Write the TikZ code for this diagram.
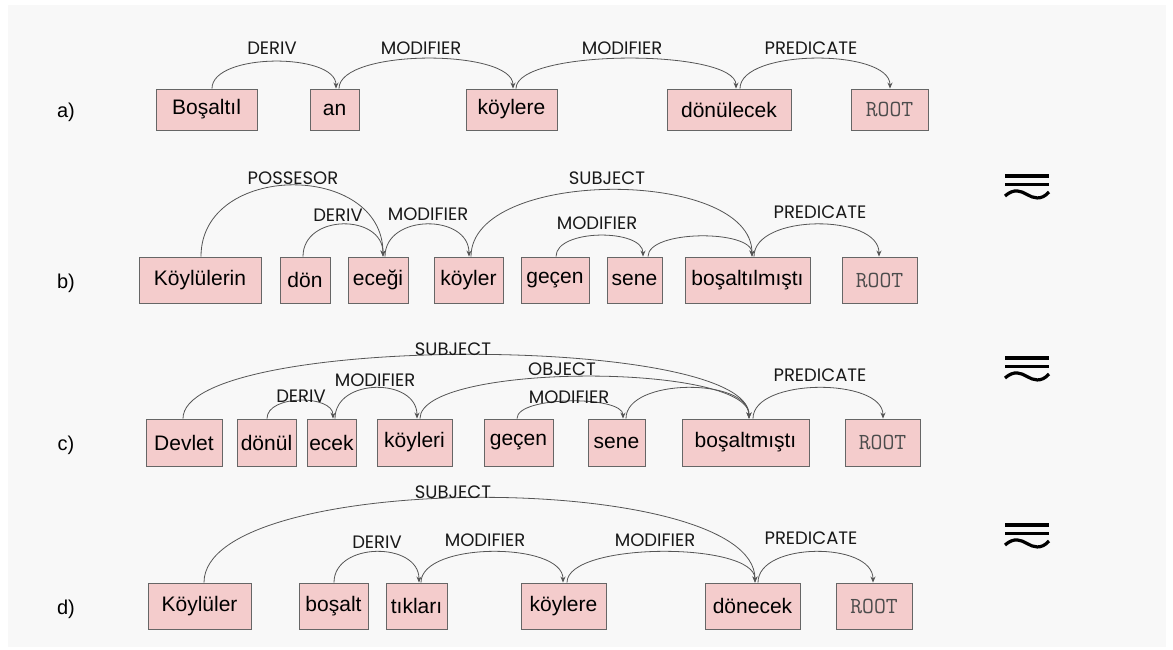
\documentclass[tikz,border=0pt]{standalone}
\usepackage{fontspec}
\setmainfont{Liberation Sans}
\newfontfamily\labelfont{Poppins}
\usetikzlibrary{arrows.meta}
\definecolor{WordPink}{HTML}{F4CCCC}
\definecolor{WordEdge}{HTML}{666666}
\definecolor{ArcInk}{HTML}{555555}
\definecolor{PageGray}{HTML}{F8F8F8}

\begin{document}
\begin{tikzpicture}[x=1pt,y=-1pt,>=Stealth]
\tikzset{
  word/.style={draw=WordEdge,line width=0.9pt,fill=WordPink,inner sep=0pt,font=\fontsize{21}{23}\selectfont,text=black},
  rootword/.style={word,font=\ttfamily\fontsize{23}{25}\selectfont,text=black!70},
  rel/.style={font=\labelfont\fontsize{18}{20}\selectfont,text=black!90,inner sep=0pt},
  row/.style={font=\fontsize{20}{22}\selectfont},
  dep/.style={draw=ArcInk,line width=0.8pt,-{Stealth[length=6pt,width=5pt]}},
  pics/eqtilde/.style={code={
    \draw[line width=3.4pt] (-22,-10) -- (22,-10);
    \draw[line width=3.4pt] (-22,-1.5) -- (22,-1.5);
    \draw[line width=3.2pt] (-22,10) .. controls (-13,2) and (-6,5) .. (0,8.5) .. controls (6,12) and (14,15) .. (22,6);
  }}
}
\useasboundingbox (0,0) rectangle (1173,650);
\fill[white] (0,0) rectangle (1173,650);
\fill[PageGray] (8,5) rectangle (1166,647);

% a)
\node[row] (ra) at (66,112) {a)};
\node[word,minimum width=101,minimum height=41] (a1) at (206.5,109.5) {Boşaltıl};
\node[word,minimum width=49,minimum height=41] (a2) at (334.5,109.5) {an};
\node[word,minimum width=91,minimum height=41] (a3) at (511.5,109.5) {köylere};
\node[word,minimum width=124,minimum height=41] (a4) at (729,109.5) {dönülecek};
\node[rootword,minimum width=77,minimum height=41] (a5) at (889.5,109.5) {ROOT};
\draw[dep] ([xshift=5.5]a1.north) .. controls +(0,-36) and +(0,-36) .. ([xshift=1.5]a2.north);
\draw[dep] ([xshift=4.5]a2.north) .. controls +(0,-40) and +(0,-40) .. ([xshift=1.5]a3.north);
\draw[dep] ([xshift=4.5]a3.north) .. controls +(0,-40) and +(0,-40) .. ([xshift=7]a4.north);
\draw[dep] ([xshift=11]a4.north) .. controls +(0,-40) and +(0,-40) .. ([xshift=0.5]a5.north);
\node[rel] (la1) at (272,48) {DERIV};
\node[rel] (la2) at (421,48) {MODIFIER};
\node[rel] (la3) at (622,48) {MODIFIER};
\node[rel] (la4) at (811,48) {PREDICATE};

% b)
\node[row] (rb) at (66,283) {b)};
\node[word,minimum width=122,minimum height=46] (b1) at (200,280) {Köylülerin};
\node[word,minimum width=50,minimum height=46] (b2) at (305,280) {dön};
\node[word,minimum width=60,minimum height=46] (b3) at (378,280) {eceği};
\node[word,minimum width=69,minimum height=46] (b4) at (468.5,280) {köyler};
\node[word,minimum width=68,minimum height=46] (b5) at (555,280) {geçen};
\node[word,minimum width=55,minimum height=46] (b6) at (634.5,280) {sene};
\node[word,minimum width=125,minimum height=46] (b7) at (747.5,280) {boşaltılmıştı};
\node[rootword,minimum width=75,minimum height=46] (b8) at (879.5,280) {ROOT};
\draw[dep] ([xshift=1]b1.north) .. controls +(0,-95) and +(0,-95) .. ([xshift=5]b3.north);
\draw[dep] ([xshift=-2]b2.north) .. controls +(0,-43) and +(0,-43) .. ([xshift=5]b3.north);
\draw[dep] ([xshift=7]b3.north) .. controls +(0,-43) and +(0,-43) .. ([xshift=0.5]b4.north);
\draw[dep] ([xshift=2.5]b4.north) .. controls +(0,-89) and +(0,-89) .. ([xshift=4.5]b7.north);
\draw[dep] ([xshift=1]b5.north) .. controls +(0,-28) and +(0,-28) .. ([xshift=8.5]b6.north);
\draw[dep] ([xshift=13.5]b6.north) .. controls +(0,-27) and +(0,-27) .. ([xshift=4.5]b7.north);
\draw[dep] ([xshift=6.5]b7.north) .. controls +(0,-43) and +(0,-43) .. ([xshift=-0.5]b8.north);
\node[rel] (lb1) at (293,178) {POSSESOR};
\node[rel] (lb2) at (338,215) {DERIV};
\node[rel] (lb3) at (428,214) {MODIFIER};
\node[rel] (lb4) at (607,178) {SUBJECT};
\node[rel] (lb5) at (597,223) {MODIFIER};
\node[rel] (lb6) at (820,212) {PREDICATE};
\pic at (1027,186) {eqtilde};

% c)
\node[row] (rc) at (66,445) {c)};
\node[word,minimum width=76,minimum height=47] (c1) at (184,442.5) {Devlet};
\node[word,minimum width=59,minimum height=47] (c2) at (266.5,442.5) {dönül};
\node[word,minimum width=49,minimum height=47] (c3) at (331.5,442.5) {ecek};
\node[word,minimum width=75,minimum height=47] (c4) at (414.5,442.5) {köyleri};
\node[word,minimum width=69,minimum height=47] (c5) at (518.5,442.5) {geçen};
\node[word,minimum width=57,minimum height=47] (c6) at (616.5,442.5) {sene};
\node[word,minimum width=127,minimum height=47] (c7) at (745.5,442.5) {boşaltmıştı};
\node[rootword,minimum width=75,minimum height=47] (c8) at (882.5,442.5) {ROOT};
\draw[dep] ([xshift=-1]c1.north) .. controls +(0,-85) and +(0,-85) .. ([xshift=3.5]c7.north);
\draw[dep] ([xshift=5.5]c4.north) .. controls +(0,-56) and +(0,-56) .. ([xshift=3.5]c7.north);
\draw[dep] ([xshift=0.5]c2.north) .. controls +(0,-24) and +(0,-24) .. ([xshift=1.5]c3.north);
\draw[dep] ([xshift=3.5]c3.north) .. controls +(0,-41) and +(0,-41) .. ([xshift=2.5]c4.north);
\draw[dep] ([xshift=-1.5]c5.north) .. controls +(0,-23) and +(0,-23) .. ([xshift=6.5]c6.north);
\draw[dep] ([xshift=9.5]c6.north) .. controls +(0,-41) and +(0,-41) .. ([xshift=3.5]c7.north);
\draw[dep] ([xshift=7.5]c7.north) .. controls +(0,-41) and +(0,-41) .. ([xshift=0.5]c8.north);
\node[rel] (lc1) at (453,349) {SUBJECT};
\node[rel] (lc2) at (562,369) {OBJECT};
\node[rel] (lc3) at (301,396) {DERIV};
\node[rel] (lc4) at (375,380) {MODIFIER};
\node[rel] (lc5) at (569,397) {MODIFIER};
\node[rel] (lc6) at (820,375) {PREDICATE};
\pic at (1027,368) {eqtilde};

% d)
\node[row] (rd) at (66,609) {d)};
\node[word,minimum width=103,minimum height=46] (d1) at (199.5,606) {Köylüler};
\node[word,minimum width=69,minimum height=46] (d2) at (333.5,606) {boşalt};
\node[word,minimum width=61,minimum height=46] (d3) at (416.5,606) {tıkları};
\node[word,minimum width=85,minimum height=46] (d4) at (563.5,606) {köylere};
\node[word,minimum width=95,minimum height=46] (d5) at (752.5,606) {dönecek};
\node[rootword,minimum width=76,minimum height=46] (d6) at (874,606) {ROOT};
\draw[dep] ([xshift=4.5]d1.north) .. controls +(0,-113) and +(0,-113) .. ([xshift=2.5]d5.north);
\draw[dep] ([xshift=0.5]d2.north) .. controls +(0,-41) and +(0,-41) .. ([xshift=2.5]d3.north);
\draw[dep] ([xshift=4.5]d3.north) .. controls +(0,-41) and +(0,-41) .. ([xshift=-0.5]d4.north);
\draw[dep] ([xshift=3.5]d4.north) .. controls +(0,-41) and +(0,-41) .. ([xshift=2.5]d5.north);
\draw[dep] ([xshift=5.5]d5.north) .. controls +(0,-41) and +(0,-41) .. ([xshift=-1]d6.north);
\node[rel] (ld1) at (453,492) {SUBJECT};
\node[rel] (ld2) at (377,542) {DERIV};
\node[rel] (ld3) at (485,540) {MODIFIER};
\node[rel] (ld4) at (655,540) {MODIFIER};
\node[rel] (ld5) at (811,538) {PREDICATE};
\pic at (1027,535) {eqtilde};
\end{tikzpicture}
\end{document}
